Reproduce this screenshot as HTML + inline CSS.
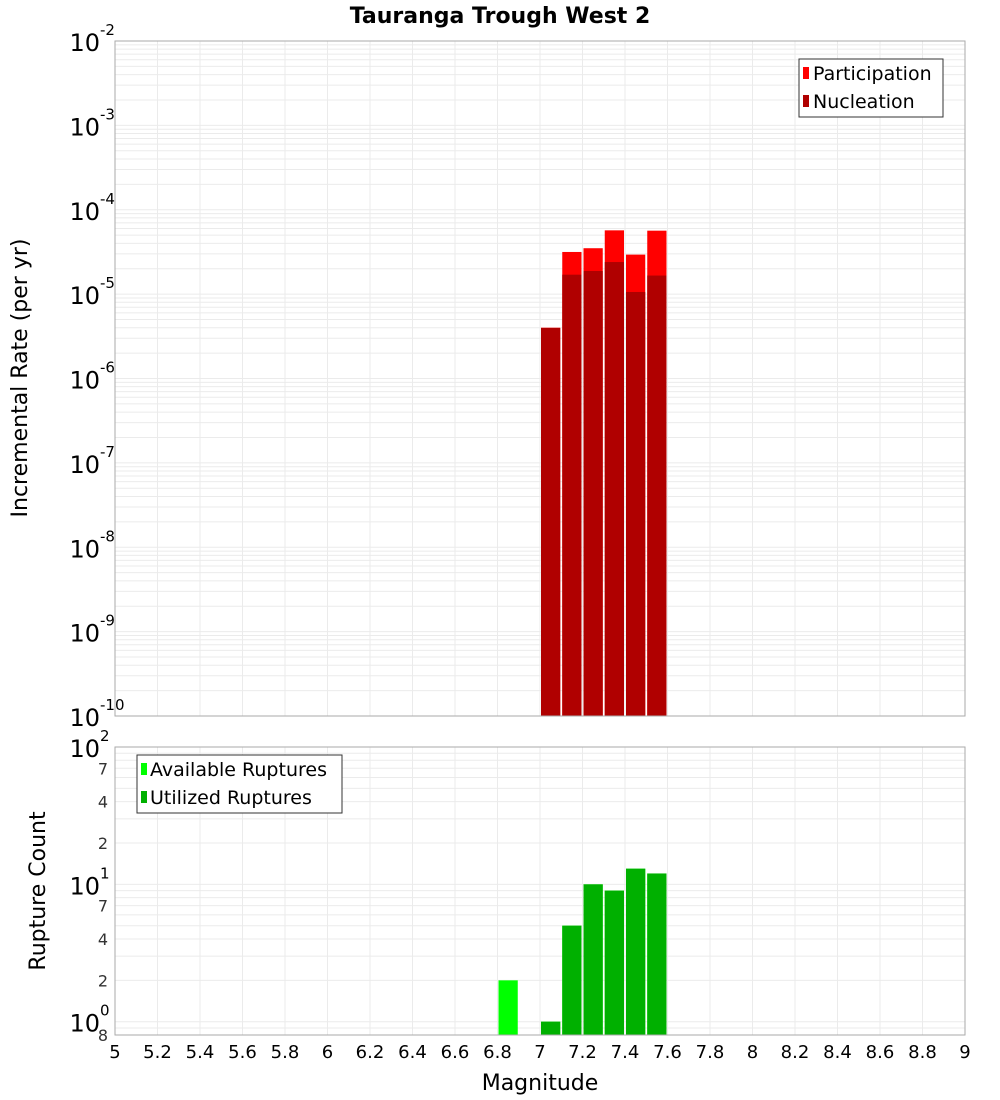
<!DOCTYPE html>
<html><head><meta charset="utf-8"><style>
body{margin:0;background:#fff;}
svg{display:block;font-family:"DejaVu Sans","Liberation Sans",sans-serif;}
</style></head><body>
<svg id="chart" width="1000" height="1100" xmlns="http://www.w3.org/2000/svg">
<text x="500" y="23" text-anchor="middle" font-size="22" font-weight="bold">Tauranga Trough West 2</text>
<g id="topPlot"></g>
<g id="botPlot"></g>
<text transform="translate(27,378) rotate(-90)" text-anchor="middle" font-size="22">Incremental Rate (per yr)</text>
<text transform="translate(45,891) rotate(-90)" text-anchor="middle" font-size="22">Rupture Count</text>
<text x="540" y="1090" text-anchor="middle" font-size="22">Magnitude</text>
<g>
<rect x="799" y="59" width="144" height="58" fill="#fff" stroke="#333"/>
<rect x="803" y="67" width="6" height="12" fill="#ff0000"/>
<text x="813" y="80" font-size="19">Participation</text>
<rect x="803" y="95" width="6" height="12" fill="#b00000"/>
<text x="813" y="108" font-size="19">Nucleation</text>
</g>
<g>
<rect x="137" y="755" width="205" height="58" fill="#fff" stroke="#333"/>
<rect x="141" y="763" width="6" height="12" fill="#00ff00"/>
<text x="150" y="776" font-size="19">Available Ruptures</text>
<rect x="141" y="791" width="6" height="12" fill="#00b000"/>
<text x="150" y="804" font-size="19">Utilized Ruptures</text>
</g>
</svg>
<script>
const mags=[7.0,7.1,7.2,7.3,7.4,7.5];
const participation=[4e-6,3.16e-5,3.5e-5,5.7e-5,2.94e-5,5.65e-5];
const nucleation=[3.97e-6,1.7e-5,1.88e-5,2.4e-5,1.06e-5,1.66e-5];
const countMags=[6.8,7.0,7.1,7.2,7.3,7.4,7.5];
const available=[2,1,5,10,9,13,12];
const utilized=[0,1,5,10,9,13,12];
const xTicks=[5,5.2,5.4,5.6,5.8,6,6.2,6.4,6.6,6.8,7,7.2,7.4,7.6,7.8,8,8.2,8.4,8.6,8.8,9];
const NS='http://www.w3.org/2000/svg';
const X0=115,X1=965;
const x=m=>X0+(m-5)/4*(X1-X0);
const T0=41,T1=716;
const yT=v=>T0+(-2-Math.log10(v))/8*(T1-T0);
const B0=747,B1=1035,BMIN=Math.log10(0.8);
const yB=v=>B0+(2-Math.log10(v))/(2-BMIN)*(B1-B0);
function mk(p,tag,a){const e=document.createElementNS(NS,tag);for(const k in a)e.setAttribute(k,a[k]);p.appendChild(e);return e;}
const gTop=document.getElementById('topPlot'),gBot=document.getElementById('botPlot');
function grid(g,y0,y1,yf,lo,hi){
  for(const t of xTicks){const l=mk(g,'line',{x1:x(t),x2:x(t),y1:y0,y2:y1,stroke:'#ebebeb'});
  
  }
  for(let d=lo;d<hi;d++)for(let k=1;k<10;k++){const v=k*Math.pow(10,d);const yy=yf(v);if(yy<y0-0.5||yy>y1+0.5)continue;const l=mk(g,'line',{x1:X0,x2:X1,y1:yy,y2:yy,stroke:'#ebebeb'});
  
  }
}
grid(gTop,T0,T1,yT,-10,-2);
grid(gBot,B0,B1,yB,-1,2);
const bw=x(5.1)-x(5)-2;
mags.forEach((m,i)=>{
  const r=mk(gTop,'rect',{x:x(m)+1,y:yT(participation[i]),width:bw,height:T1-yT(participation[i]),fill:'#ff0000'});
  
  
  const n=mk(gTop,'rect',{x:x(m)+1,y:yT(nucleation[i]),width:bw,height:T1-yT(nucleation[i]),fill:'#b00000'});
  
  
});
countMags.forEach((m,i)=>{
  if(available[i]>0){const r=mk(gBot,'rect',{x:x(m)+1,y:yB(available[i]),width:bw,height:B1-yB(available[i]),fill:'#00ff00'});
  
  }
  if(utilized[i]>0){const r=mk(gBot,'rect',{x:x(m)+1,y:yB(utilized[i]),width:bw,height:B1-yB(utilized[i]),fill:'#00b000'});
  
  }
});
const f1=mk(gTop,'rect',{x:X0,y:T0,width:X1-X0,height:T1-T0,fill:'none',stroke:'#aaa'});


const f2=mk(gBot,'rect',{x:X0,y:B0,width:X1-X0,height:B1-B0,fill:'none',stroke:'#aaa'});


function decLabel(g,yy,exp){
  const t=mk(g,'text',{x:100,y:yy+10,'text-anchor':'end','font-size':24});
  t.textContent='10';
  
  
  const s=mk(g,'text',{x:100,y:yy-6,'font-size':15});s.textContent=exp;
  
  
}
for(let d=-10;d<=-2;d++)decLabel(gTop,yT(Math.pow(10,d)),String(d));
for(let d=0;d<=2;d++)decLabel(gBot,yB(Math.pow(10,d)),String(d));
for(const v of [0.8,2,4,7,20,40,70]){
  const t=mk(gBot,'text',{x:108,y:yB(v)+6,'text-anchor':'end','font-size':16,fill:'#333'});
  t.textContent=String(v<1?8:(v>=10?v/10:v));
  
  
}
for(const t of xTicks){
  const e=mk(gBot,'text',{x:x(t),y:1058,'text-anchor':'middle','font-size':18});
  e.textContent=String(t);
  
  
}
</script>
</body></html>
